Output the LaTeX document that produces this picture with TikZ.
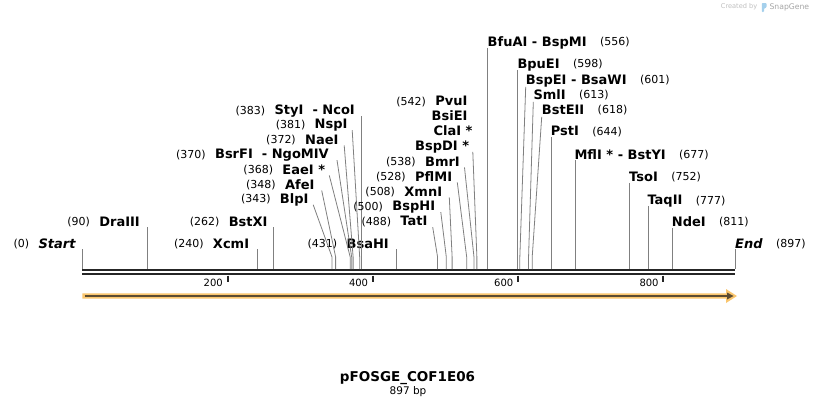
\documentclass[tikz,border=0pt]{standalone}
\usepackage{fontspec}
\setmainfont{DejaVu Sans}
\usepackage{xcolor}
\usepackage{tikz}
\usetikzlibrary{positioning,calc}

\definecolor{featorange}{RGB}{250,198,110}
\definecolor{featdark}{RGB}{92,76,50}
\definecolor{seqdark}{RGB}{38,38,38}
\definecolor{snapblue}{RGB}{165,208,236}

\begin{document}
\begin{tikzpicture}[x=1pt, y=-1pt,
    enzname/.style={font=\bfseries\fontsize{13}{15}\selectfont, inner sep=0pt, text height=9.5pt, text depth=1pt},
    sitenum/.style={font=\fontsize{11}{13}\selectfont, inner sep=0pt, text height=8pt, text depth=1pt},
    cutline/.style={draw=black!50, line width=0.8pt},
    ticklab/.style={font=\fontsize{10}{12}\selectfont, inner sep=0pt, anchor=east}]

    \path[fill=white] (0,0) rectangle (818,408);

    % Cut sites (in bp)
    \begin{scope}[shift={(82.3,0)}, x=0.728pt]
        \foreach \n/\p in {start/0, dra/90, xcm/240, bstx/262, blp/343, afe/348,
            eae/368, bsrf/370, nae/372, nsp/381, sty/383, bsah/431, tat/488,
            bsph/500, xmn/508, pflm/528, bmr/538, pvu/542, bfua/556, bpue/598,
            bspe/601, sml/613, bste/618, pst/644, mfl/677, tso/752, taq/777,
            nde/811, end/897}
            {\coordinate (c-\n) at (\p,269);
             \coordinate (b-\n) at (\p,257);}
    \end{scope}

    % Sequence and ruler
    \draw[seqdark, line width=2.3pt] ([yshift=-1.2pt]c-start) -- ([yshift=-1.2pt]c-end);
    \draw[seqdark, line width=2.3pt] ([yshift=-5.2pt]c-start) -- ([yshift=-5.2pt]c-end);
    \foreach \x/\t in {227.5/200, 372.8/400, 518/600, 663.3/800} {
        \draw[seqdark, line width=2pt] (\x,275.5) -- (\x,282);
        \node[ticklab] (t\t) at (\x-4.5,282.5) {\t};
    }

    % Feature arrow
    \fill[featorange] (82.3,293.3) -- (726,293.3) -- (726,289) -- (737,296)
        -- (726,303) -- (726,298.7) -- (82.3,298.7) -- cycle;
    \draw[featdark, line width=2pt] (84.5,296) -- (728,296);
    \fill[featdark] (727,292.5) -- (733.5,296) -- (727,299.5) -- cycle;

    % Left labels
    \node[enzname, anchor=east] (e-start) at (75.7,244) {\itshape Start};
    \node[sitenum, left=9pt of e-start] (n-start) {(0)};
    \draw[cutline] (e-start.south -| c-start) -- (c-start);
    \node[enzname, anchor=east] (e-dra) at (140,222) {DraIII};
    \node[sitenum, left=9pt of e-dra] (n-dra) {(90)};
    \draw[cutline] (e-dra.south -| c-dra) -- (c-dra);
    \node[enzname, anchor=east] (e-xcm) at (249.3,244) {XcmI};
    \node[sitenum, left=9pt of e-xcm] (n-xcm) {(240)};
    \draw[cutline] (e-xcm.south -| c-xcm) -- (c-xcm);
    \node[enzname, anchor=east] (e-bstx) at (267.7,222) {BstXI};
    \node[sitenum, left=9pt of e-bstx] (n-bstx) {(262)};
    \draw[cutline] (e-bstx.south -| c-bstx) -- (c-bstx);
    \node[enzname, anchor=east] (e-bsah) at (389,244) {BsaHI};
    \node[sitenum, left=9pt of e-bsah] (n-bsah) {(431)};
    \draw[cutline] (e-bsah.south -| c-bsah) -- (c-bsah);

    % Left cluster
    \node[enzname, anchor=east] (e-blp) at (308.7,199.3) {BlpI};
    \node[sitenum, left=9pt of e-blp] (n-blp) {(343)};
    \draw[cutline] ([xshift=4.5pt]e-blp.south east) -- (b-blp) -- (c-blp);
    \node[enzname, anchor=east] (e-afe) at (314.7,185) {AfeI};
    \node[sitenum, left=9pt of e-afe] (n-afe) {(348)};
    \draw[cutline] ([xshift=7pt]e-afe.south east) -- (b-afe) -- (c-afe);
    \node[enzname, anchor=east] (e-eae) at (325.3,170) {EaeI *};
    \node[sitenum, left=9pt of e-eae] (n-eae) {(368)};
    \draw[cutline] ([xshift=4pt]e-eae.south east) -- (b-eae) -- (c-eae);
    \node[enzname, anchor=east] (e-bsrf) at (329,154.7) {BsrFI\ \ - NgoMIV};
    \node[sitenum, left=9pt of e-bsrf] (n-bsrf) {(370)};
    \draw[cutline] ([xshift=8pt]e-bsrf.south east) -- (b-bsrf) -- (c-bsrf);
    \node[enzname, anchor=east] (e-nae) at (338.7,140) {NaeI};
    \node[sitenum, left=9pt of e-nae] (n-nae) {(372)};
    \draw[cutline] ([xshift=5.5pt]e-nae.south east) -- (b-nae) -- (c-nae);
    \node[enzname, anchor=east] (e-nsp) at (347.7,124.7) {NspI};
    \node[sitenum, left=9pt of e-nsp] (n-nsp) {(381)};
    \draw[cutline] ([xshift=4.5pt]e-nsp.south east) -- (b-nsp) -- (c-nsp);
    \node[enzname, anchor=east] (e-sty) at (355,110.7) {StyI\ \ - NcoI};
    \node[sitenum, left=9pt of e-sty] (n-sty) {(383)};
    \draw[cutline] (e-sty.south -| c-sty) -- (c-sty);

    % Middle cluster
    \node[enzname, anchor=east] (e-tat) at (427.7,221.7) {TatI};
    \node[sitenum, left=9pt of e-tat] (n-tat) {(488)};
    \draw[cutline] ([xshift=5pt]e-tat.south east) -- (b-tat) -- (c-tat);
    \node[enzname, anchor=east] (e-bsph) at (435.3,206.7) {BspHI};
    \node[sitenum, left=9pt of e-bsph] (n-bsph) {(500)};
    \draw[cutline] ([xshift=5.5pt]e-bsph.south east) -- (b-bsph) -- (c-bsph);
    \node[enzname, anchor=east] (e-xmn) at (442.3,192) {XmnI};
    \node[sitenum, left=9pt of e-xmn] (n-xmn) {(508)};
    \draw[cutline] ([xshift=7pt]e-xmn.south east) -- (b-xmn) -- (c-xmn);
    \node[enzname, anchor=east] (e-pflm) at (452.3,177) {PflMI};
    \node[sitenum, left=9pt of e-pflm] (n-pflm) {(528)};
    \draw[cutline] ([xshift=5pt]e-pflm.south east) -- (b-pflm) -- (c-pflm);
    \node[enzname, anchor=east] (e-bmr) at (460,162) {BmrI};
    \node[sitenum, left=9pt of e-bmr] (n-bmr) {(538)};
    \draw[cutline] ([xshift=4.5pt]e-bmr.south east) -- (b-bmr) -- (c-bmr);
    \node[enzname, anchor=east] (e-bspd) at (469.3,146.5) {BspDI *};
    \node[enzname, anchor=east] (e-cla) at (472.7,131.3) {ClaI *};
    \node[enzname, anchor=east] (e-bsie) at (467.7,116.5) {BsiEI};
    \node[enzname, anchor=east] (e-pvu) at (467.7,101.5) {PvuI};
    \node[sitenum, left=9pt of e-pvu] (n-pvu) {(542)};
    \draw[cutline] ([xshift=3.5pt]e-bspd.south east) -- (b-pvu) -- (c-pvu);

    % Right labels
    \node[enzname, anchor=west] (e-bfua) at (487.5,42.3) {BfuAI\ - BspMI};
    \node[sitenum, right=13pt of e-bfua] (n-bfua) {(556)};
    \draw[cutline] (e-bfua.south -| c-bfua) -- (c-bfua);
    \node[enzname, anchor=west] (e-bpue) at (517.3,64.3) {BpuEI};
    \node[sitenum, right=13pt of e-bpue] (n-bpue) {(598)};
    \draw[cutline] (e-bpue.south -| c-bpue) -- (c-bpue);
    \node[enzname, anchor=west] (e-bspe) at (525.7,80) {BspEI\ - BsaWI};
    \node[sitenum, right=13pt of e-bspe] (n-bspe) {(601)};
    \draw[cutline] ([yshift=-1.5pt]e-bspe.south west) -- (b-bspe) -- (c-bspe);
    \node[enzname, anchor=west] (e-sml) at (533.3,95) {SmlI};
    \node[sitenum, right=13pt of e-sml] (n-sml) {(613)};
    \draw[cutline] ([yshift=-1.5pt]e-sml.south west) -- (b-sml) -- (c-sml);
    \node[enzname, anchor=west] (e-bste) at (541.7,110) {BstEII};
    \node[sitenum, right=13pt of e-bste] (n-bste) {(618)};
    \draw[cutline] ([yshift=-1.5pt]e-bste.south west) -- (b-bste) -- (c-bste);
    \node[enzname, anchor=west] (e-pst) at (550.7,131.7) {PstI};
    \node[sitenum, right=13pt of e-pst] (n-pst) {(644)};
    \draw[cutline] (e-pst.south -| c-pst) -- (c-pst);
    \node[enzname, anchor=west] (e-mfl) at (574.3,155) {MflI * - BstYI};
    \node[sitenum, right=13pt of e-mfl] (n-mfl) {(677)};
    \draw[cutline] (e-mfl.south -| c-mfl) -- (c-mfl);
    \node[enzname, anchor=west] (e-tso) at (629,177.3) {TsoI};
    \node[sitenum, right=13pt of e-tso] (n-tso) {(752)};
    \draw[cutline] (e-tso.south -| c-tso) -- (c-tso);
    \node[enzname, anchor=west] (e-taq) at (647.3,200.5) {TaqII};
    \node[sitenum, right=13pt of e-taq] (n-taq) {(777)};
    \draw[cutline] (e-taq.south -| c-taq) -- (c-taq);
    \node[enzname, anchor=west] (e-nde) at (671.7,222.3) {NdeI};
    \node[sitenum, right=13pt of e-nde] (n-nde) {(811)};
    \draw[cutline] (e-nde.south -| c-nde) -- (c-nde);
    \node[enzname, anchor=west] (e-end) at (735,244) {\itshape End};
    \node[sitenum, right=13pt of e-end] (n-end) {(897)};
    \draw[cutline] (e-end.south -| c-end) -- (c-end);

    % Title
    \node[font=\bfseries\fontsize{13.5}{16}\selectfont, inner sep=0pt] (title) at (407.5,378) {pFOSGE\_COF1E06};
    \node[font=\fontsize{10.5}{12}\selectfont, inner sep=0pt] (size) at (408,392) {897 bp};

    % Credit
    \node[font=\fontsize{6.6}{8}\selectfont, text=black!25, inner sep=0pt, anchor=west] (credit) at (720.7,7) {Created by};
    \fill[snapblue, rounded corners=0.8pt] (761.8,12) -- (761.8,3) -- (766.5,3) -- (766.5,7.5) -- (764,8.5) -- (764,12) -- cycle;
    \node[font=\fontsize{7.7}{9}\selectfont, text=black!35, inner sep=0pt, anchor=west] (brand) at (769.3,7) {SnapGene};
\end{tikzpicture}
\end{document}
